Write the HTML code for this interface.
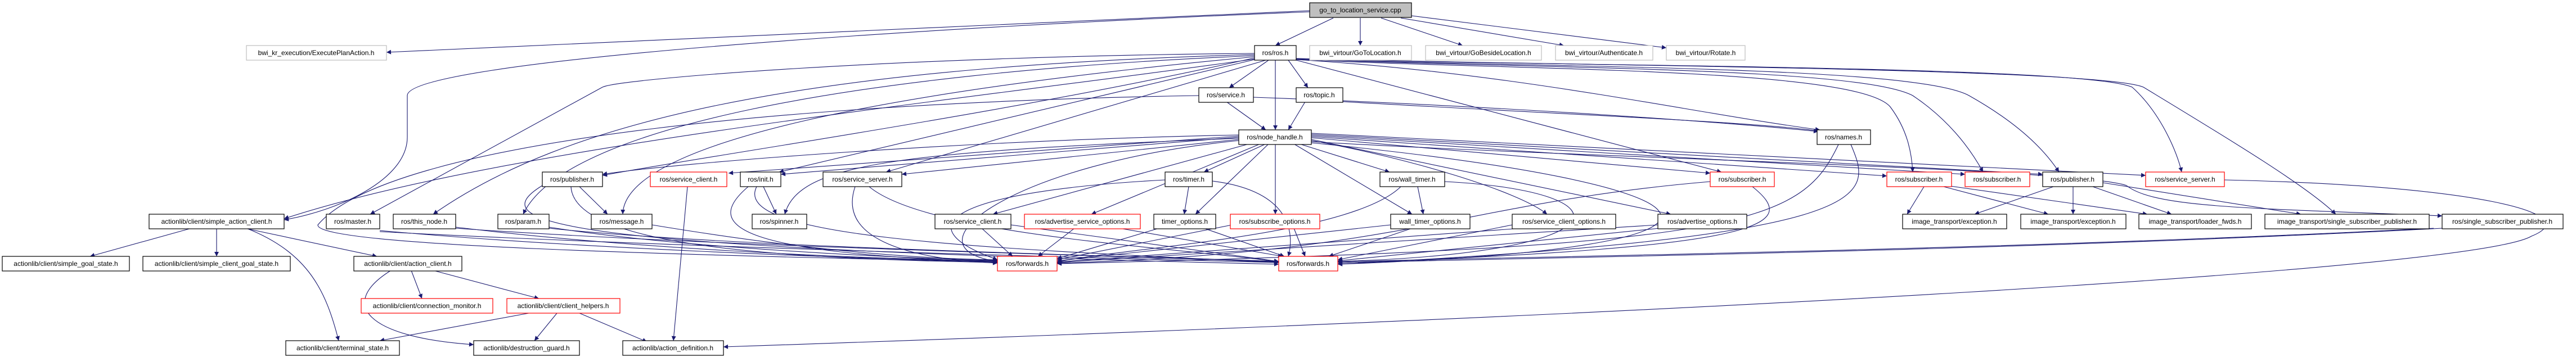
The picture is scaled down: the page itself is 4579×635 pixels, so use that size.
<!DOCTYPE html>
<html><head><meta charset="utf-8"><style>
html,body{margin:0;padding:0;background:#fff;}
svg{display:block;}
text{font-family:"Liberation Sans",Arial,sans-serif;font-size:12px;fill:#000;}
.e{fill:none;stroke:#191970;stroke-width:1.1;}
</style></head><body>
<svg width="4579" height="635" viewBox="0 0 4579 635" xmlns="http://www.w3.org/2000/svg">
<defs><marker id="a" viewBox="0 0 10 10" refX="10" refY="5" markerWidth="10" markerHeight="8" orient="auto" markerUnits="userSpaceOnUse"><path d="M0,0 L10,5 L0,10 z" fill="#191970"/></marker></defs>
<g class="e" marker-end="url(#a)">
<path d="M2370 32 L2267 81"/><path d="M2418 32 L2418 81"/><path d="M2455 32 L2600 81"/><path d="M2490 32 L2780 81"/><path d="M2509 28 L2962 85"/>
<path d="M2328 19 L687 93"/>
<path d="M2328 21 C1600 50 724 110 724 170 L724 244 C724 320 600 375 505 391"/>
<path d="M2255 107 L2185 156"/><path d="M2267 107 L2267 231"/><path d="M2290 107 L2325 156"/>
<path d="M2230 95 C1600 100 1100 140 1071 155 L658 381"/>
<path d="M2230 97 C1400 120 1000 220 770 381"/>
<path d="M2230 99 C1500 130 1000 230 930 381"/>
<path d="M2230 101 C1600 160 1110 250 1107 381"/>
<path d="M2230 103 C1800 200 1300 270 1071 312"/>
<path d="M2230 105 C1700 180 900 260 505 389"/>
<path d="M2230 106 L1385 306"/><path d="M2250 107 L1575 306"/>
<path d="M2304 106 C2700 130 3000 200 3235 231"/>
<path d="M2304 107 L3060 306"/>
<path d="M2304 106 C2700 125 3300 120 3360 190 C3390 230 3398 270 3400 306"/>
<path d="M2304 105 C2700 122 3300 118 3400 170 C3460 210 3500 260 3525 306"/>
<path d="M2304 105 C2700 120 3400 115 3500 170 C3580 215 3630 260 3660 306"/>
<path d="M2304 104 C2700 118 3700 115 3790 155 C3840 200 3870 270 3878 306"/>
<path d="M2304 104 C2700 116 3730 120 3810 155 C3950 240 4100 330 4152 381"/>
<path d="M2180 181 L2250 231"/><path d="M2228 173 C2700 190 3100 220 3232 234"/>
<path d="M2131 170 C1500 180 700 240 565 400 C560 440 1300 455 1773 466"/>
<path d="M2320 181 L2290 231"/><path d="M2304 176 C2700 200 3100 215 3235 233"/>
<path d="M2202 240 C1700 250 1200 290 1071 310"/>
<path d="M2202 242 L1295 308"/><path d="M2202 244 L1388 310"/>
<path d="M2202 246 C1600 270 1420 290 1395 381"/>
<path d="M2202 248 L1603 310"/>
<path d="M2202 250 C1800 290 1600 440 1773 465"/>
<path d="M2220 256 L1765 381"/><path d="M2240 256 L1940 381"/><path d="M2250 256 L2140 306"/><path d="M2255 256 L2125 381"/><path d="M2267 256 L2267 381"/>
<path d="M2310 256 L2470 306"/><path d="M2300 256 L2510 381"/>
<path d="M2331 250 C2500 280 2700 340 2750 381"/>
<path d="M2331 248 L2970 381"/><path d="M2331 245 L3040 308"/><path d="M2331 243 L3354 313"/><path d="M2331 241 L3493 310"/><path d="M2331 239 L3631 310"/><path d="M2331 237 L3814 312"/>
<path d="M2331 252 C2800 280 3700 300 3780 330 C3830 370 4000 370 4341 384"/>
<path d="M2331 254 C3100 330 3200 440 2378 470"/>
<path d="M2113 332 L2105 381"/><path d="M2071 320 C1700 340 1600 400 1773 462"/><path d="M2155 322 C2300 340 2300 420 2290 456"/>
<path d="M2520 332 L2530 381"/><path d="M2490 332 C2400 420 2000 440 1879 466"/><path d="M2568 323 C2900 340 2900 450 2378 465"/>
<path d="M3040 323 C2600 360 2500 450 1879 468"/><path d="M3115 332 C3200 400 3150 440 2378 468"/>
<path d="M3268 257 C3200 400 3100 440 1879 469"/><path d="M3290 257 C3330 350 3350 420 2378 470"/>
<path d="M1030 332 L1080 381"/><path d="M1015 332 C1020 440 1400 460 1773 467"/><path d="M964 330 C850 400 1000 440 2273 470"/>
<path d="M1222 332 L1197 606"/>
<path d="M1357 332 L1380 381"/><path d="M1330 332 C1250 400 1300 450 1773 466"/><path d="M1345 332 C1300 420 1700 440 2273 467"/>
<path d="M1520 332 C1490 420 1600 460 1773 468"/><path d="M1545 332 C1650 420 2100 440 2273 466"/>
<path d="M1745 406 L1800 456"/><path d="M1797 400 L2273 465"/>
<path d="M1910 406 L1845 456"/><path d="M1990 406 L2280 456"/>
<path d="M2060 406 L1879 460"/><path d="M2140 406 L2283 456"/>
<path d="M2190 400 L1879 462"/><path d="M2300 406 L2320 456"/>
<path d="M2510 406 L2362 456"/><path d="M2472 400 L1879 464"/>
<path d="M2705 406 L1879 466"/><path d="M2688 400 L2378 462"/>
<path d="M2947 400 L1879 467"/><path d="M2960 405 L2378 464"/>
<path d="M675 410 C1000 440 1500 460 1773 465"/><path d="M675 412 C1200 440 2000 460 2273 467"/>
<path d="M810 404 C1100 440 1500 460 1773 464"/><path d="M810 406 C1300 440 2000 455 2273 466"/>
<path d="M976 404 C1200 440 1600 460 1773 463"/><path d="M976 406 C1300 440 2000 455 2273 465"/>
<path d="M1159 400 C1400 440 1600 460 1773 462"/>
<path d="M3420 332 L3390 381"/><path d="M3455 332 L3641 381"/><path d="M3460 330 L3817 381"/>
<path d="M3650 332 L3510 381"/><path d="M3685 332 L3685 381"/><path d="M3720 332 L3860 381"/><path d="M3738 325 L4090 381"/>
<path d="M4341 406 C3500 450 2600 460 2378 468"/><path d="M4326 406 C3500 448 2600 458 2378 466"/>
<path d="M3954 320 C4400 330 4600 380 4500 420 C4400 480 3000 560 1286 617"/>
<path d="M340 406 L160 456"/><path d="M385 406 L385 456"/><path d="M435 406 L670 456"/>
<path d="M438 406 C550 450 580 520 602 606"/>
<path d="M731 481 L750 531"/><path d="M770 481 L958 531"/>
<path d="M695 481 C600 540 650 600 842 613"/>
<path d="M940 557 L675 606"/><path d="M990 557 L950 606"/><path d="M1030 557 L1150 608"/>
</g>
<g stroke-width="1.2">
<rect x="2328" y="5" width="181" height="26" fill="#bfbfbf" stroke="#000"/>
<g fill="#fff" stroke="#bfbfbf">
<rect x="438" y="81" width="249" height="26"/><rect x="2328" y="81" width="181" height="26"/><rect x="2534" y="81" width="206" height="26"/><rect x="2765" y="81" width="173" height="26"/><rect x="2962" y="81" width="140" height="26"/>
</g>
<g fill="#fff" stroke="#000">
<rect x="2230" y="81" width="74" height="26"/>
<rect x="2131" y="156" width="97" height="26"/><rect x="2304" y="156" width="83" height="26"/>
<rect x="2202" y="231" width="129" height="26"/><rect x="3230" y="231" width="95" height="26"/>
<rect x="964" y="306" width="107" height="26"/><rect x="1316" y="306" width="72" height="26"/><rect x="1463" y="306" width="140" height="26"/><rect x="2071" y="306" width="84" height="26"/><rect x="2453" y="306" width="115" height="26"/><rect x="3631" y="306" width="107" height="26"/>
<rect x="265" y="381" width="240" height="26"/><rect x="580" y="381" width="95" height="26"/><rect x="699" y="381" width="111" height="26"/><rect x="885" y="381" width="91" height="26"/><rect x="1051" y="381" width="108" height="26"/><rect x="1337" y="381" width="97" height="26"/><rect x="1662" y="381" width="135" height="26"/><rect x="2051" y="381" width="110" height="26"/><rect x="2472" y="381" width="141" height="26"/><rect x="2688" y="381" width="184" height="26"/><rect x="2947" y="381" width="158" height="26"/><rect x="3382" y="381" width="185" height="26"/><rect x="3592" y="381" width="187" height="26"/><rect x="3802" y="381" width="200" height="26"/><rect x="4026" y="381" width="292" height="26"/><rect x="4341" y="381" width="215" height="26"/>
<rect x="4" y="456" width="226" height="26"/><rect x="254" y="456" width="262" height="26"/><rect x="629" y="456" width="192" height="26"/>
<rect x="508" y="606" width="202" height="26"/><rect x="842" y="606" width="188" height="26"/><rect x="1107" y="606" width="179" height="26"/>
</g>
<g fill="#fff" stroke="#ff0000">
<rect x="1156" y="306" width="136" height="26"/><rect x="3040" y="306" width="114" height="26"/><rect x="3354" y="306" width="115" height="26"/><rect x="3493" y="306" width="115" height="26"/><rect x="3814" y="306" width="140" height="26"/>
<rect x="1821" y="381" width="206" height="26"/><rect x="2187" y="381" width="159" height="26"/>
<rect x="1773" y="456" width="106" height="26"/><rect x="2273" y="456" width="105" height="26"/>
<rect x="642" y="531" width="234" height="26"/><rect x="901" y="531" width="201" height="26"/>
</g>
</g>
<g text-anchor="middle">
<text x="2418" y="22">go_to_location_service.cpp</text>
<text x="562" y="98">bwi_kr_execution/ExecutePlanAction.h</text>
<text x="2267" y="98">ros/ros.h</text>
<text x="2418" y="98">bwi_virtour/GoToLocation.h</text>
<text x="2637" y="98">bwi_virtour/GoBesideLocation.h</text>
<text x="2851" y="98">bwi_virtour/Authenticate.h</text>
<text x="3032" y="98">bwi_virtour/Rotate.h</text>
<text x="2179" y="173">ros/service.h</text>
<text x="2345" y="173">ros/topic.h</text>
<text x="2266" y="248">ros/node_handle.h</text>
<text x="3277" y="248">ros/names.h</text>
<text x="1017" y="323">ros/publisher.h</text>
<text x="1224" y="323">ros/service_client.h</text>
<text x="1352" y="323">ros/init.h</text>
<text x="1533" y="323">ros/service_server.h</text>
<text x="2113" y="323">ros/timer.h</text>
<text x="2510" y="323">ros/wall_timer.h</text>
<text x="3097" y="323">ros/subscriber.h</text>
<text x="3411" y="323">ros/subscriber.h</text>
<text x="3550" y="323">ros/subscriber.h</text>
<text x="3684" y="323">ros/publisher.h</text>
<text x="3884" y="323">ros/service_server.h</text>
<text x="385" y="398">actionlib/client/simple_action_client.h</text>
<text x="627" y="398">ros/master.h</text>
<text x="754" y="398">ros/this_node.h</text>
<text x="930" y="398">ros/param.h</text>
<text x="1105" y="398">ros/message.h</text>
<text x="1385" y="398">ros/spinner.h</text>
<text x="1729" y="398">ros/service_client.h</text>
<text x="1924" y="398">ros/advertise_service_options.h</text>
<text x="2106" y="398">timer_options.h</text>
<text x="2266" y="398">ros/subscribe_options.h</text>
<text x="2542" y="398">wall_timer_options.h</text>
<text x="2780" y="398">ros/service_client_options.h</text>
<text x="3026" y="398">ros/advertise_options.h</text>
<text x="3474" y="398">image_transport/exception.h</text>
<text x="3685" y="398">image_transport/exception.h</text>
<text x="3902" y="398">image_transport/loader_fwds.h</text>
<text x="4172" y="398">image_transport/single_subscriber_publisher.h</text>
<text x="4448" y="398">ros/single_subscriber_publisher.h</text>
<text x="117" y="473">actionlib/client/simple_goal_state.h</text>
<text x="385" y="473">actionlib/client/simple_client_goal_state.h</text>
<text x="725" y="473">actionlib/client/action_client.h</text>
<text x="1826" y="473">ros/forwards.h</text>
<text x="2325" y="473">ros/forwards.h</text>
<text x="759" y="548">actionlib/client/connection_monitor.h</text>
<text x="1001" y="548">actionlib/client/client_helpers.h</text>
<text x="609" y="623">actionlib/client/terminal_state.h</text>
<text x="936" y="623">actionlib/destruction_guard.h</text>
<text x="1196" y="623">actionlib/action_definition.h</text>
</g>
</svg>
</body></html>
